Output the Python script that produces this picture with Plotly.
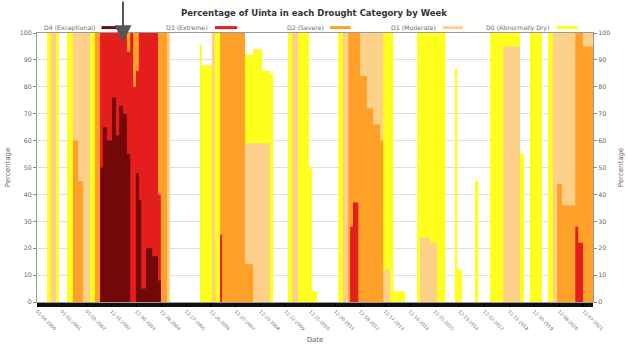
import pandas as pd
import plotly.graph_objects as go

# Weekly drought coverage for Uinta, stored as runs of constant values.
# Each run begins at week index run_start[i]; values are cumulative percent
# of area in that category or worse (D0 >= D1 >= D2 >= D3 >= D4).
start_date = "2000-01-04"
n_weeks = 1163

run_start = [0, 21, 29, 40, 46, 63, 75, 86, 96, 111, 121, 132, 138, 146, 157,
             165, 172, 180, 188, 195, 201, 207, 213, 218, 228, 241, 253, 259,
             272, 278, 341, 345, 366, 372, 383, 387, 435, 452, 471, 487, 494,
             525, 534, 546, 569, 575, 586, 630, 640, 651, 655, 661, 672, 676,
             690, 703, 718, 724, 738, 745, 770, 795, 801, 822, 837, 854, 874,
             879, 889, 916, 923, 948, 975, 1010, 1019, 1031, 1056, 1069, 1079,
             1088, 1098, 1126, 1132, 1142]

d0 = [0, 100, 100, 100, 0, 100, 100, 100, 100, 100, 100, 100, 100, 100, 100,
      100, 100, 100, 100, 100, 100, 100, 100, 100, 100, 100, 100, 100,
      100, 0, 96, 88, 100, 100, 100, 100, 92, 94, 86, 85, 0,
      100, 100, 100, 50, 4, 0, 100, 100, 100, 100, 100, 100, 100,
      100, 100, 100, 100, 100, 4, 0, 100, 100, 100, 100, 0, 87,
      12, 0, 45, 0, 100, 100, 55, 0, 100, 0, 100, 100,
      100, 100, 100, 100, 100]

d1 = [0, 0, 100, 0, 0, 0, 100, 100, 100, 0, 100, 100, 100, 100, 100,
      100, 100, 100, 100, 100, 100, 100, 100, 100, 100, 100, 100, 100,
      100, 0, 0, 0, 100, 0, 100, 100, 59, 59, 59, 0, 0,
      0, 100, 0, 0, 0, 0, 0, 100, 100, 100, 100, 100, 100,
      100, 100, 100, 12, 0, 0, 0, 0, 24, 22, 0, 0, 0,
      0, 0, 0, 0, 0, 95, 0, 0, 0, 0, 0, 100,
      100, 100, 100, 100, 100]

d2 = [0, 0, 0, 0, 0, 0, 60, 45, 0, 0, 100, 100, 100, 100, 100,
      100, 100, 100, 100, 100, 100, 100, 100, 100, 100, 100, 100, 100,
      0, 0, 0, 0, 0, 0, 100, 100, 14, 0, 0, 0, 0,
      0, 0, 0, 0, 0, 0, 0, 0, 100, 100, 100, 100, 84,
      72, 66, 60, 0, 0, 0, 0, 0, 0, 0, 0, 0, 0,
      0, 0, 0, 0, 0, 0, 0, 0, 0, 0, 0, 0,
      44, 36, 100, 100, 95]

d3 = [0, 0, 0, 0, 0, 0, 0, 0, 0, 0, 0, 100, 100, 100, 100,
      100, 100, 100, 93, 100, 80, 86, 100, 100, 100, 100, 40, 0,
      0, 0, 0, 0, 0, 0, 25, 0, 0, 0, 0, 0, 0,
      0, 0, 0, 0, 0, 0, 0, 0, 0, 28, 37, 0, 0,
      0, 0, 0, 0, 0, 0, 0, 0, 0, 0, 0, 0, 0,
      0, 0, 0, 0, 0, 0, 0, 0, 0, 0, 0, 0,
      0, 0, 28, 22, 0]

d4 = [0, 0, 0, 0, 0, 0, 0, 0, 0, 0, 0, 50, 65, 60, 76,
      62, 73, 70, 55, 0, 0, 48, 38, 5, 20, 17, 8, 0,
      0, 0, 0, 0, 0, 0, 0, 0, 0, 0, 0, 0, 0,
      0, 0, 0, 0, 0, 0, 0, 0, 0, 0, 0, 0, 0,
      0, 0, 0, 0, 0, 0, 0, 0, 0, 0, 0, 0, 0,
      0, 0, 0, 0, 0, 0, 0, 0, 0, 0, 0, 0,
      0, 0, 0, 0, 0]

categories = ["D0 (Abnormally Dry)", "D1 (Moderate)", "D2 (Severe)",
              "D3 (Extreme)", "D4 (Exceptional)"]
colors = ["#ffff1e", "#fdd08a", "#ffa028", "#e41e1c", "#720808"]
series = [d0, d1, d2, d3, d4]

dates = pd.date_range(start_date, periods=n_weeks + 1, freq="7D")
tick_dates = list(dates[0:n_weeks:52])
tick_labels = [d.strftime("%m-%d-%Y") for d in tick_dates]


def expand(values):
    """Turn run values into one value per week (plus a closing point)."""
    out = []
    for i, s in enumerate(run_start):
        e = run_start[i + 1] if i + 1 < len(run_start) else n_weeks
        out.extend([values[i]] * (e - s))
    out.append(out[-1])
    return out


fig = go.Figure()
for name, col, vals in zip(categories, colors, series):
    fig.add_trace(go.Scatter(
        x=dates, y=expand(vals), name=name, mode="lines",
        line=dict(width=0, shape="hv", color=col),
        fill="tozeroy", fillcolor=col, showlegend=False,
        hoverinfo="skip",
    ))

# invisible trace so the right-hand axis is drawn
fig.add_trace(go.Scatter(x=[dates[0]], y=[0], yaxis="y2", mode="markers",
                         marker=dict(opacity=0), showlegend=False,
                         hoverinfo="skip"))

font_family = "DejaVu Sans"
txt = "#666666"

fig.update_layout(
    width=628, height=349,
    margin=dict(l=37, r=35, t=33, b=47, autoexpand=False),
    paper_bgcolor="white", plot_bgcolor="white",
    font=dict(family=font_family, size=7, color=txt),
    title=dict(text="<b>Percentage of Uinta in each Drought Category by Week</b>",
               x=0.5, xanchor="center", y=0.962, yanchor="middle",
               font=dict(size=8.5, color="#333333")),
    xaxis=dict(
        type="date", range=[dates[0], dates[-1]],
        tickvals=tick_dates, ticktext=tick_labels, tickangle=45,
        tickfont=dict(size=4.6, color="#707070"),
        ticks="outside", ticklen=4, tickcolor="black", tickwidth=1,
        minor=dict(dtick=14 * 86400000, tick0=dates[0], ticks="outside",
                   ticklen=4, tickcolor="#111111", tickwidth=1,
                   showgrid=False),
        showgrid=False, showline=True, linecolor="#999999", mirror=True,
        zeroline=False, automargin=False,
        title=dict(text="Date", font=dict(size=7, color=txt), standoff=6),
    ),
    yaxis=dict(
        range=[0, 100], dtick=10, showgrid=True, gridcolor="#dedede",
        ticks="outside", ticklen=3, tickcolor="#888888",
        tickfont=dict(size=6.3, color=txt),
        showline=True, linecolor="#999999", zeroline=False, automargin=False,
        title=dict(text="Percentage", font=dict(size=7, color=txt), standoff=8),
    ),
    yaxis2=dict(
        range=[0, 100], dtick=10, overlaying="y", side="right",
        showgrid=False, ticks="outside", ticklen=3, tickcolor="#888888",
        tickfont=dict(size=6.3, color=txt),
        showline=True, linecolor="#999999", zeroline=False, automargin=False,
        title=dict(text="Percentage", font=dict(size=7, color=txt), standoff=8),
    ),
)

# Legend row above the plot: label followed by a colour bar
legend_items = [
    ("D4 (Exceptional)", "#720808", 0.116, 0.144),
    ("D3 (Extreme)", "#e41e1c", 0.320, 0.360),
    ("D2 (Severe)", "#ffa028", 0.527, 0.564),
    ("D1 (Moderate)", "#fdd08a", 0.730, 0.766),
    ("D0 (Abnormally Dry)", "#ffff1e", 0.935, 0.973),
]
for label, col, x0, x1 in legend_items:
    fig.add_annotation(text=label, xref="paper", yref="paper", x=x0 - 0.008,
                       y=1.02, xanchor="right", yanchor="middle",
                       showarrow=False, font=dict(size=6.2, color="#707070"))
    fig.add_shape(type="line", xref="paper", yref="paper", x0=x0, x1=x1,
                  y0=1.02, y1=1.02, line=dict(color=col, width=3))

# Pointer arrow marking the exceptional-drought period
fig.add_annotation(xref="paper", yref="paper", x=0.1547, y=0.966,
                   ax=0, ay=-48, text="", showarrow=True, arrowhead=2,
                   arrowsize=1.7, arrowwidth=2, arrowcolor="#555555")

fig.write_html("out.html")
